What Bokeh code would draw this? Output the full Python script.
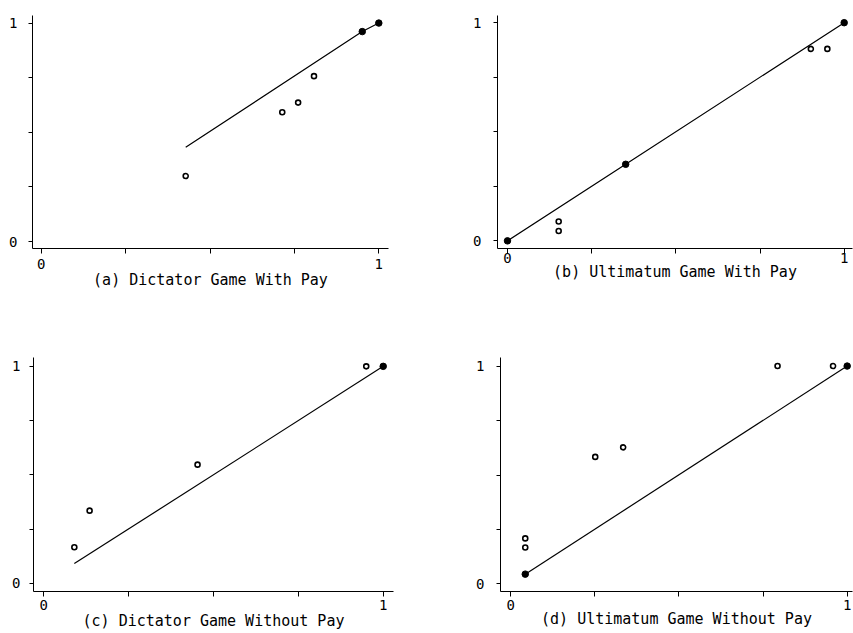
from bokeh.plotting import figure
from bokeh.layouts import row, column
from bokeh.models import FixedTicker, CustomJSTickFormatter, Range1d
from bokeh.embed import file_html
from bokeh.resources import INLINE

# ---------------- data ----------------
titles = ["(a) Dictator Game With Pay", "(b) Ultimatum Game With Pay",
          "(c) Dictator Game Without Pay", "(d) Ultimatum Game Without Pay"]

tick_values = [0, 0.25, 0.5, 0.75, 1]

a_open_x = [0.428, 0.714, 0.761, 0.808]
a_open_y = [0.300, 0.592, 0.636, 0.757]
a_fill_x = [0.951, 1.0]
a_fill_y = [0.961, 1.0]
a_line_x = [0.428, 0.951, 1.0]
a_line_y = [0.432, 0.961, 1.0]

b_open_x = [0.152, 0.152, 0.901, 0.950]
b_open_y = [0.089, 0.045, 0.880, 0.880]
b_fill_x = [0.0, 0.351, 1.0]
b_fill_y = [0.0, 0.351, 1.0]
b_line_x = [0.0, 0.351, 1.0]
b_line_y = [0.0, 0.351, 1.0]

c_open_x = [0.090, 0.135, 0.453, 0.950]
c_open_y = [0.166, 0.335, 0.547, 1.0]
c_fill_x = [1.0]
c_fill_y = [1.0]
c_line_x = [0.090, 1.0]
c_line_y = [0.091, 1.0]

d_open_x = [0.043, 0.043, 0.251, 0.334, 0.793, 0.958]
d_open_y = [0.167, 0.209, 0.583, 0.627, 1.0, 1.0]
d_fill_x = [0.043, 1.0]
d_fill_y = [0.045, 1.0]
d_line_x = [0.043, 1.0]
d_line_y = [0.045, 1.0]

FONT = "DejaVu Sans Mono"


def panel(title, width, height, borders, xr, yr, xstand, ystand, title_stand,
          lx, ly, ox, oy, fx, fy):
    bl, br, bt, bb = borders
    p = figure(width=width, height=height, output_backend="svg",
               toolbar_location=None, x_range=Range1d(*xr), y_range=Range1d(*yr),
               min_border_left=bl, min_border_right=br,
               min_border_top=bt, min_border_bottom=bb)
    p.outline_line_color = None
    p.xgrid.visible = False
    p.ygrid.visible = False
    p.background_fill_color = "white"
    p.border_fill_color = "white"

    fmt = CustomJSTickFormatter(code="return (tick == 0 || tick == 1) ? tick.toFixed(0) : '';")
    for ax in (p.xaxis[0], p.yaxis[0]):
        ax.ticker = FixedTicker(ticks=tick_values)
        ax.formatter = fmt
        ax.minor_tick_line_color = None
        ax.major_tick_in = 0
        ax.axis_line_color = "black"
        ax.axis_line_width = 1
        ax.major_tick_line_color = "black"
        ax.major_label_text_font = FONT
        ax.major_label_text_font_size = "14px"
        ax.major_label_text_color = "black"
    p.xaxis.major_tick_out = 5
    p.yaxis.major_tick_out = 4
    p.xaxis.major_label_standoff = xstand
    p.yaxis.major_label_standoff = ystand

    p.xaxis.axis_label = title
    p.xaxis.axis_label_text_font = FONT
    p.xaxis.axis_label_text_font_style = "normal"
    p.xaxis.axis_label_text_font_size = "15px"
    p.xaxis.axis_label_text_color = "black"
    p.xaxis.axis_label_standoff = title_stand

    p.line(lx, ly, line_color="black", line_width=1.2)
    p.scatter(ox, oy, marker="circle", size=5, fill_color="white",
              line_color="black", line_width=1.6)
    p.scatter(fx, fy, marker="circle", size=6.5, fill_color="black",
              line_color="black", line_width=1)
    return p


# borders: (left, right, top, bottom) in px; canvas rows 308 + 325 = 633
pa = panel(titles[0], 430, 308, (32, 42, 15, 56), (-0.0258, 1.0287), (-0.0315, 1.0346),
           5, 11, -1, a_line_x, a_line_y, a_open_x, a_open_y, a_fill_x, a_fill_y)
pb = panel(titles[1], 423, 308, (67, 1, 12, 60), (-0.0297, 1.0247), (-0.035, 1.033),
           -1, 12, -3, b_line_x, b_line_y, b_open_x, b_open_y, b_fill_x, b_fill_y)
pc = panel(titles[2], 430, 325, (33, 37, 49, 38), (-0.0303, 1.0303), (-0.0376, 1.0408),
           3, 9, -1, c_line_x, c_line_y, c_open_x, c_open_y, c_fill_x, c_fill_y)
pd = panel(titles[3], 423, 325, (70, 1, 45, 42), (-0.0306, 1.0158), (-0.0347, 1.0393),
           3, 12, -3, d_line_x, d_line_y, d_open_x, d_open_y, d_fill_x, d_fill_y)

layout = column(row(pa, pb), row(pc, pd))

open("out.html", "w").write(file_html(layout, INLINE))
